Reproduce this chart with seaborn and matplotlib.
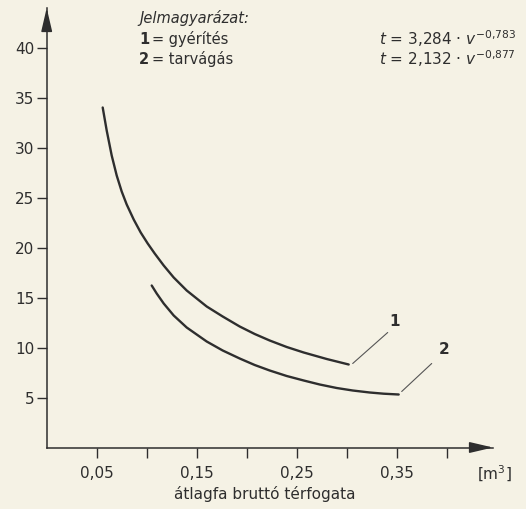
import numpy as np
import pandas as pd
import matplotlib
matplotlib.use("Agg")
import matplotlib.pyplot as plt
import seaborn as sns

# ---- data ----
gyerites_v = [0.056, 0.060, 0.065, 0.070, 0.075, 0.080, 0.087, 0.094, 0.101, 0.108, 0.117,
              0.127, 0.140, 0.160, 0.176, 0.193, 0.208, 0.223, 0.240, 0.257, 0.280, 0.302]
gyerites_t = [34.0, 31.7, 29.2, 27.2, 25.6, 24.3, 22.8, 21.5, 20.4, 19.4, 18.2,
              17.0, 15.7, 14.1, 13.1, 12.1, 11.35, 10.7, 10.05, 9.5, 8.85, 8.3]
tarvagas_v = [0.105, 0.110, 0.117, 0.127, 0.140, 0.160, 0.176, 0.193, 0.208, 0.223, 0.240,
              0.257, 0.273, 0.290, 0.306, 0.323, 0.337, 0.352]
tarvagas_t = [16.2, 15.4, 14.4, 13.2, 12.0, 10.6, 9.7, 8.9, 8.25, 7.7, 7.15,
              6.7, 6.3, 5.95, 5.7, 5.5, 5.38, 5.3]
x_ticks = [0.05, 0.10, 0.15, 0.20, 0.25, 0.30, 0.35, 0.40]
x_ticklabels = ["0,05", "", "0,15", "", "0,25", "", "0,35", ""]
y_ticks = [5, 10, 15, 20, 25, 30, 35, 40]
y_ticklabels = ["5", "10", "15", "20", "25", "30", "35", "40"]
legend_title = "Jelmagyarázat:"
series_ids = ["1", "2"]
series_names = ["gyérítés", "tarvágás"]
formulas = [r"$t$ = 3,284 · $v^{-0{,}783}$", r"$t$ = 2,132 · $v^{-0{,}877}$"]
x_label = "átlagfa bruttó térfogata"
x_unit = r"[m$^{3}$]"

df = pd.DataFrame({
    "v": gyerites_v + tarvagas_v,
    "t": gyerites_t + tarvagas_t,
    "tipus": ["1"] * len(gyerites_v) + ["2"] * len(tarvagas_v),
})

BG = "#f5f2e5"
INK = "#2e2e2e"

sns.set_theme(style="ticks")
plt.rcParams["font.family"] = ["DejaVu Sans"]
plt.rcParams["mathtext.fontset"] = "custom"
plt.rcParams["mathtext.rm"] = "DejaVu Sans"
plt.rcParams["mathtext.it"] = "DejaVu Sans:italic"
plt.rcParams["mathtext.bf"] = "DejaVu Sans:bold"

fig = plt.figure(figsize=(5.26, 5.09), dpi=100, facecolor=BG)
W, H = 526, 509
ax = fig.add_axes([46.7 / W, 1 - 447.5 / H, (493 - 46.7) / W, (447.5 - 8) / H])
ax.set_facecolor(BG)

sns.lineplot(data=df, x="v", y="t", hue="tipus", palette=[INK, INK],
             estimator=None, sort=False, legend=False, lw=1.7, ax=ax)

ax.set_xlim(0, 0.4463)
ax.set_ylim(0, 43.95)
ax.set_xticks(x_ticks)
ax.set_xticklabels(x_ticklabels)
ax.set_yticks(y_ticks)
ax.set_yticklabels(y_ticklabels)
ax.set_xlabel("")
ax.set_ylabel("")
for s in ["top", "right"]:
    ax.spines[s].set_visible(False)
for s in ["left", "bottom"]:
    ax.spines[s].set_color(INK)
    ax.spines[s].set_linewidth(1.1)
ax.tick_params(axis="x", length=7, width=1.0, color=INK, labelsize=11, labelcolor=INK, pad=6.5)
ax.tick_params(axis="y", length=7.5, width=1.0, color=INK, labelsize=11, labelcolor=INK, pad=1.5)

# axis arrows
ax.annotate("", xy=(1.0, 0), xytext=(0.95, 0), xycoords="axes fraction",
            arrowprops=dict(arrowstyle="-|>,head_length=1.2,head_width=0.28",
                            color=INK, lw=1.1, shrinkA=0, shrinkB=0), annotation_clip=False)
ax.annotate("", xy=(0, 1.0), xytext=(0, 0.95), xycoords="axes fraction",
            arrowprops=dict(arrowstyle="-|>,head_length=1.2,head_width=0.28",
                            color=INK, lw=1.1, shrinkA=0, shrinkB=0), annotation_clip=False)

# curve labels with leader lines
ax.plot([0.306, 0.341], [8.4, 11.5], color="#555555", lw=0.8)
ax.plot([0.355, 0.385], [5.6, 8.4], color="#555555", lw=0.8)
ax.text(0.348, 12.6, series_ids[0], fontsize=11, fontweight="bold", color=INK, ha="center", va="center")
ax.text(0.397, 9.8, series_ids[1], fontsize=11, fontweight="bold", color=INK, ha="center", va="center")

# legend block
fig.text(139 / W, 1 - 18 / H, legend_title, fontsize=10.5, style="italic", color=INK, ha="left", va="center")
for i, yy in enumerate([39, 59]):
    fig.text(139 / W, 1 - yy / H, series_ids[i], fontsize=10.5, fontweight="bold", color=INK, ha="left", va="center")
    fig.text(152 / W, 1 - yy / H, "= " + series_names[i], fontsize=10.5, color=INK, ha="left", va="center")
    fig.text(516 / W, 1 - yy / H, formulas[i], fontsize=11, color=INK, ha="right", va="center")

fig.text(264.5 / W, 1 - 494 / H, x_label, fontsize=11, color=INK, ha="center", va="center")
fig.text(494 / W, 1 - 474 / H, x_unit, fontsize=11, color=INK, ha="center", va="center")

fig.savefig("out.png", dpi=100, facecolor=BG)
